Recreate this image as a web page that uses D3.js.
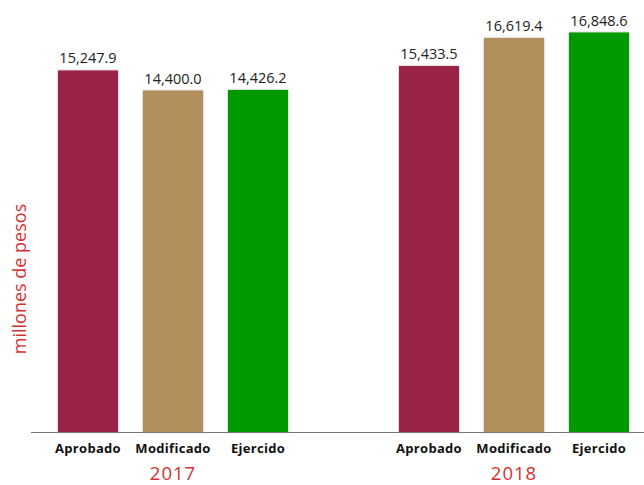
<!DOCTYPE html>
<html>
<head>
<meta charset="utf-8">
<script src="https://cdn.jsdelivr.net/npm/d3@7"></script>
<style>
  body { margin: 0; background: #fff; }
  svg { display: block; }
</style>
</head>
<body>
<svg id="chart" width="644" height="485"></svg>
<script>
// datos (millones de pesos)
var years = ['2017', '2018'];
var categories = ['Aprobado', 'Modificado', 'Ejercido'];
var values2017 = [15247.9, 14400.0, 14426.2];
var values2018 = [15433.5, 16619.4, 16848.6];
var colors = ['#9B2247', '#B38E5D', '#009900'];

var data = years.map(function(y, i) {
  var vals = i === 0 ? values2017 : values2018;
  return { year: y, bars: categories.map(function(c, j) { return { cat: c, value: vals[j] }; }) };
});

var svg = d3.select('#chart');

var x0 = d3.scalePoint()
    .domain(years)
    .range([173, 514]);

var x1 = d3.scaleBand()
    .domain(categories)
    .range([-115, 115])
    .paddingInner(25 / 85)
    .paddingOuter(0);

var y = d3.scaleLinear()
    .domain([0, 16848.6])
    .range([432, 32.5]);

var z = d3.scaleOrdinal().domain(categories).range(colors);

var fmt = d3.format(',.1f');

var defs = svg.append('defs');
var f = defs.append('filter').attr('id', 'shadow')
    .attr('x', '-10%').attr('y', '-10%').attr('width', '120%').attr('height', '120%');
f.append('feDropShadow')
    .attr('dx', 0).attr('dy', 0)
    .attr('stdDeviation', 0.8)
    .attr('flood-color', '#000')
    .attr('flood-opacity', 0.35);

var groups = svg.selectAll('g.year')
  .data(data)
  .enter().append('g')
    .attr('class', 'year')
    .attr('transform', function(d) { return 'translate(' + x0(d.year) + ',0)'; });

groups.selectAll('rect')
  .data(function(d) { return d.bars; })
  .enter().append('rect')
    .attr('x', function(d) { return x1(d.cat); })
    .attr('y', function(d) { return y(d.value); })
    .attr('width', x1.bandwidth())
    .attr('height', function(d) { return y(0) - y(d.value); })
    .attr('fill', function(d) { return z(d.cat); })
    .attr('filter', 'url(#shadow)');

groups.selectAll('text.val')
  .data(function(d) { return d.bars; })
  .enter().append('text')
    .attr('class', 'val')
    .attr('x', function(d) { return x1(d.cat) + x1.bandwidth() / 2; })
    .attr('y', function(d) { return y(d.value) - 7; })
    .attr('text-anchor', 'middle')
    .attr('font-family', 'Open Sans, sans-serif')
    .attr('font-size', 14.5)
    .attr('fill', '#222')
    .text(function(d) { return fmt(d.value); });

groups.selectAll('text.cat')
  .data(function(d) { return d.bars; })
  .enter().append('text')
    .attr('class', 'cat')
    .attr('x', function(d) { return x1(d.cat) + x1.bandwidth() / 2; })
    .attr('y', 453)
    .attr('text-anchor', 'middle')
    .attr('font-family', 'Open Sans, sans-serif')
    .attr('font-weight', 'bold')
    .attr('font-size', 13)
    .attr('letter-spacing', 0.3)
    .attr('fill', '#111')
    .text(function(d) { return d.cat; });

groups.append('text')
    .attr('x', 0)
    .attr('y', 480)
    .attr('text-anchor', 'middle')
    .attr('font-family', 'Open Sans, sans-serif')
    .attr('font-size', 18.5)
    .attr('letter-spacing', 1)
    .attr('fill', '#D3312F')
    .text(function(d) { return d.year; });

// eje horizontal
svg.append('line')
    .attr('x1', 31).attr('x2', 644)
    .attr('y1', y(0) + 0.5).attr('y2', y(0) + 0.5)
    .attr('stroke', '#777')
    .attr('stroke-width', 1.2);

svg.append('text')
    .attr('transform', 'translate(26,279) rotate(-90)')
    .attr('text-anchor', 'middle')
    .attr('font-family', 'Open Sans, sans-serif')
    .attr('font-size', 18)
    .attr('fill', '#D3312F')
    .text('millones de pesos');
</script>
</body>
</html>
